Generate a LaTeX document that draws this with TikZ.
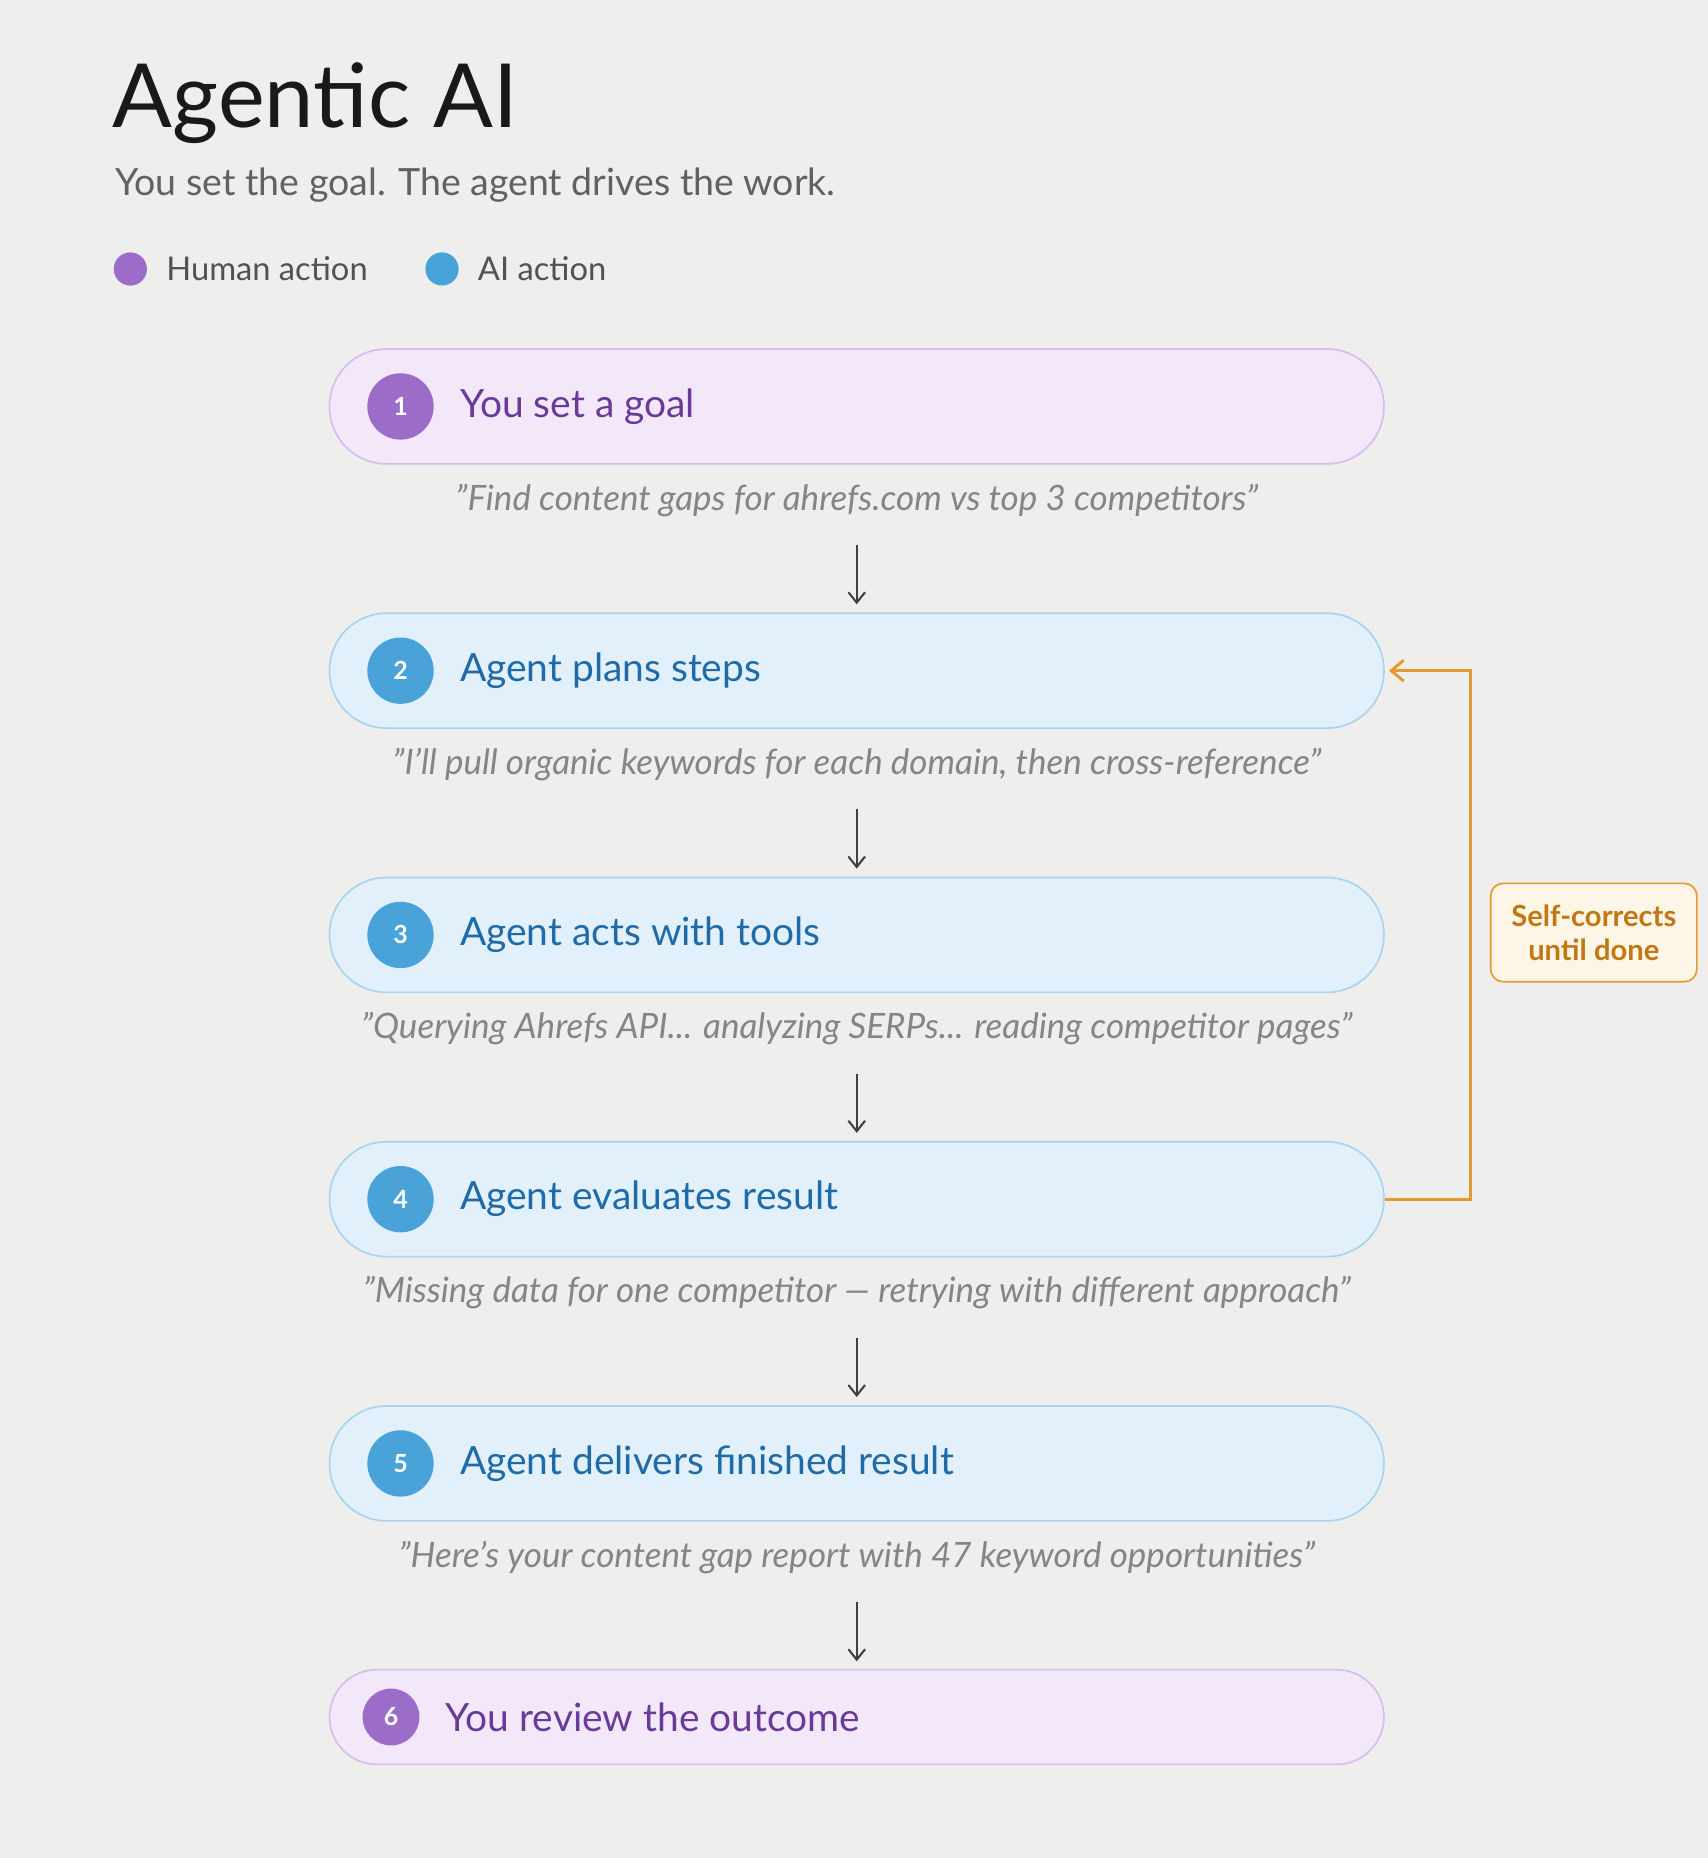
\documentclass[tikz,border=0pt]{standalone}
\usepackage{fontspec}
\setmainfont{Lato}
\usetikzlibrary{arrows.meta, positioning}
\definecolor{bg}{HTML}{EEEEEC}
\definecolor{hfill}{HTML}{F3E8FA}
\definecolor{hdraw}{HTML}{D9BCEC}
\definecolor{hdot}{HTML}{9B6CC8}
\definecolor{htext}{HTML}{6A3A9A}
\definecolor{afill}{HTML}{E1F0FB}
\definecolor{adraw}{HTML}{AAD4EE}
\definecolor{adot}{HTML}{4AA3D8}
\definecolor{atext}{HTML}{1F6BA8}
\definecolor{loopc}{HTML}{E39A2E}
\definecolor{looptext}{HTML}{C27812}
\definecolor{loopfill}{HTML}{FDF6E6}
\tikzset{
    pill/.style={draw, line width=0.8pt, rounded corners=0.96cm, minimum width=17.8cm, minimum height=1.94cm},
    human/.style={pill, fill=hfill, draw=hdraw},
    agent/.style={pill, fill=afill, draw=adraw},
    num/.style={circle, minimum size=1.12cm, inner sep=0pt, text=white, font=\fontsize{12}{14}\selectfont\bfseries},
    steplabel/.style={anchor=west, font=\fontsize{18.7}{22}\selectfont},
    quote/.style={text=black!48, font=\fontsize{16.8}{20}\selectfont\itshape},
    flow/.style={-{Straight Barb[length=5pt, width=8pt]}, draw=black!75, line width=1pt}
}
\begin{document}
\begin{tikzpicture}[x=0.02cm, y=-0.02cm]
    \fill[bg] (0,0) rectangle (1441,1568);
    % header
    \node[anchor=base west, inner sep=0pt, text=black!90, font=\fontsize{42.5}{46}\selectfont] (title) at (95,108) {Agentic AI};
    \node[anchor=base west, inner sep=0pt, text=black!62, font=\fontsize{18}{21}\selectfont] (sub) at (97,165) {You set the goal. The agent drives the work.};
    \fill[hdot] (110,227) circle (14);
    \node[anchor=west, inner sep=0pt, text=black!68, font=\fontsize{15.7}{19}\selectfont] (lh) at (140,227) {Human action};
    \fill[adot] (373,227) circle (14);
    \node[anchor=west, inner sep=0pt, text=black!68, font=\fontsize{15.7}{19}\selectfont] (la) at (403,227) {AI action};
    % steps
    \node[human] (p1) at (723,343) {};
    \node[num, fill=hdot] (n1) at (338,343) {1};
    \node[steplabel, text=htext] (t1) at (382,343) {You set a goal};
    \node[quote] (q1) at (723,422) {”Find content gaps for ahrefs.com vs top 3 competitors”};

    \node[agent] (p2) at (723,566) {};
    \node[num, fill=adot] (n2) at (338,566) {2};
    \node[steplabel, text=atext] (t2) at (382,566) {Agent plans steps};
    \node[quote] (q2) at (723,645) {”I’ll pull organic keywords for each domain, then cross-reference”};

    \node[agent] (p3) at (723,789) {};
    \node[num, fill=adot] (n3) at (338,789) {3};
    \node[steplabel, text=atext] (t3) at (382,789) {Agent acts with tools};
    \node[quote] (q3) at (723,868) {”Querying Ahrefs API... analyzing SERPs... reading competitor pages”};

    \node[agent] (p4) at (723,1012) {};
    \node[num, fill=adot] (n4) at (338,1012) {4};
    \node[steplabel, text=atext] (t4) at (382,1012) {Agent evaluates result};
    \node[quote] (q4) at (723,1091) {”Missing data for one competitor — retrying with different approach”};

    \node[agent] (p5) at (723,1235) {};
    \node[num, fill=adot] (n5) at (338,1235) {5};
    \node[steplabel, text=atext] (t5) at (382,1235) {Agent delivers finished result};
    \node[quote] (q5) at (723,1314) {”Here’s your content gap report with 47 keyword opportunities”};

    \node[human, minimum height=1.6cm, rounded corners=0.8cm] (p6) at (723,1449) {};
    \node[num, fill=hdot, minimum size=0.96cm] (n6) at (330,1449) {6};
    \node[steplabel, text=htext] (t6) at (370,1449) {You review the outcome};
    % arrows
    \coordinate (a1) at (723,460); \coordinate (b1) at (723,510);
    \coordinate (a2) at (723,683); \coordinate (b2) at (723,733);
    \coordinate (a3) at (723,906); \coordinate (b3) at (723,956);
    \coordinate (a4) at (723,1129); \coordinate (b4) at (723,1179);
    \coordinate (a5) at (723,1352); \coordinate (b5) at (723,1402);
    \foreach \i in {1,...,5} \draw[flow] (a\i) -- (b\i);
    % loop back
    \draw[loopc, line width=1.4pt, -{Straight Barb[length=6pt, width=10pt]}] (p4.east) -- (1241,1012) -- (1241,566) -- ([xshift=2]p2.east);
    \node[draw=loopc, fill=loopfill, rounded corners=6pt, line width=0.8pt, minimum width=3.48cm, minimum height=1.66cm, align=center, text=looptext, font=\fontsize{14}{16.5}\selectfont\bfseries] (fix) at (1345,787) {Self-corrects\\until done};
\end{tikzpicture}
\end{document}
